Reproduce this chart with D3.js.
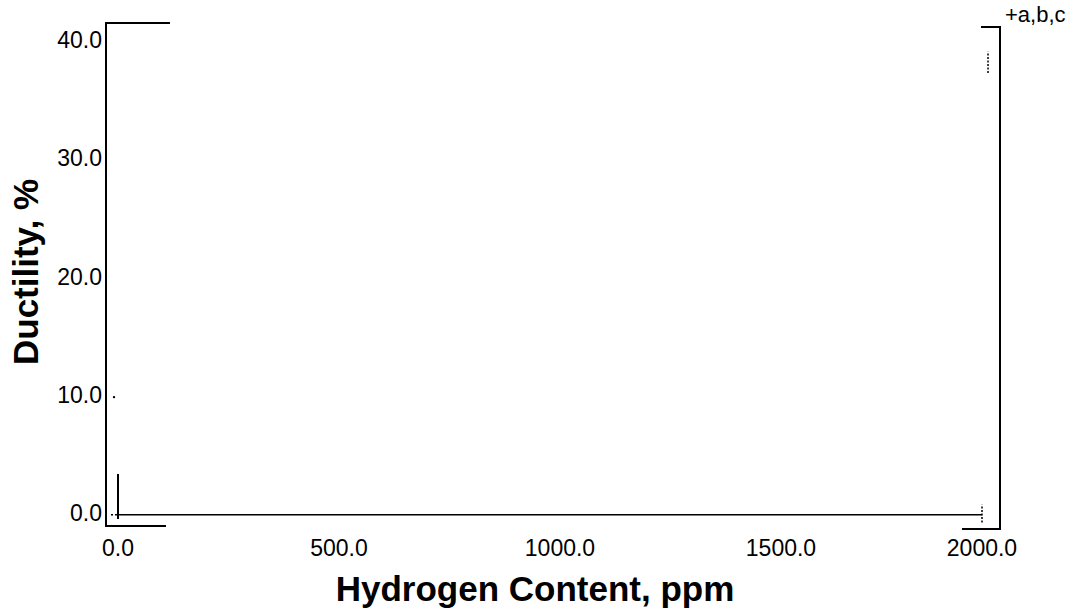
<!DOCTYPE html>
<html>
<head>
<meta charset="utf-8">
<script src="https://cdn.jsdelivr.net/npm/d3@7"></script>
<style>
  body { margin: 0; background: #fff; }
  text { font-family: "Liberation Sans", Arial, sans-serif; fill: #000; }
</style>
</head>
<body>
<div id="chart"></div>
<script>
(function(d3) {

// tick values on both axes
var xTicks = [0, 500, 1000, 1500, 2000];
var yTicks = [0, 10, 20, 30, 40];

// baseline series (drawn as a line)
var lineHydrogen = [0, 2000];
var lineDuctility = [-0.15, -0.15];

// error bars: hydrogen, low, high
var barHydrogen = [0, 2000, 2015];
var barLow = [-0.5, -0.8, 37.2];
var barHigh = [3.3, 0.7, 39.0];

// single stray point
var pointHydrogen = [-9];
var pointDuctility = [9.8];

var legendLabel = '+a,b,c';

var width = 1079,
    height = 614;

var svg = d3.select('#chart')
  .append('svg')
  .attr('width', width)
  .attr('height', height);

// scale is a bit stretched in the middle, like the scanned original
var x = d3.scaleLinear()
  .domain([0, 1500, 2000])
  .range([118, 781, 982]);

var y = d3.scaleLinear()
  .domain([0, 40])
  .range([513, 40]);

// frame: full sides, short bracket pieces top and bottom
var frame = svg.append('g')
  .attr('stroke', '#000')
  .attr('stroke-width', 2)
  .attr('fill', 'none');

frame.append('path').attr('d', 'M170,23H106V526H166');
frame.append('path').attr('d', 'M981,27H1000V529H962');

// tick labels
svg.append('g')
  .selectAll('text')
  .data(xTicks)
  .enter()
  .append('text')
  .attr('x', function(d) { return x(d); })
  .attr('y', 556)
  .attr('text-anchor', 'middle')
  .attr('font-size', 23)
  .text(function(d) { return d3.format('.1f')(d); });

svg.append('g')
  .selectAll('text')
  .data(yTicks)
  .enter()
  .append('text')
  .attr('x', 102)
  .attr('y', function(d) { return y(d); })
  .attr('dy', '0.35em')
  .attr('text-anchor', 'end')
  .attr('font-size', 23)
  .text(function(d) { return d3.format('.1f')(d); });

// baseline
var line = d3.line()
  .x(function(d) { return x(d[0]); })
  .y(function(d) { return y(d[1]); });

svg.append('path')
  .datum(d3.zip(lineHydrogen, lineDuctility))
  .attr('d', line)
  .attr('fill', 'none')
  .attr('stroke', '#000')
  .attr('stroke-width', 1.5);

// little tick at start of baseline
svg.append('line')
  .attr('x1', x(0) - 7)
  .attr('x2', x(0))
  .attr('y1', y(lineDuctility[0]))
  .attr('y2', y(lineDuctility[0]))
  .attr('stroke', '#000')
  .attr('stroke-width', 1.5)
  .attr('stroke-dasharray', '2,2');

// error bars
svg.append('g')
  .selectAll('line')
  .data(d3.zip(barHydrogen, barLow, barHigh))
  .enter()
  .append('line')
  .attr('x1', function(d) { return x(d[0]); })
  .attr('x2', function(d) { return x(d[0]); })
  .attr('y1', function(d) { return y(d[1]); })
  .attr('y2', function(d) { return y(d[2]); })
  .attr('stroke', '#000')
  .attr('stroke-width', function(d, i) { return i === 0 ? 2 : 1.5; })
  .attr('stroke-dasharray', function(d, i) { return i === 0 ? null : '2,1.5'; });

// stray point
svg.append('g')
  .selectAll('circle')
  .data(d3.zip(pointHydrogen, pointDuctility))
  .enter()
  .append('circle')
  .attr('cx', function(d) { return x(d[0]); })
  .attr('cy', function(d) { return y(d[1]); })
  .attr('r', 1.2)
  .attr('fill', '#000');

// legend text
svg.append('text')
  .attr('x', 1005)
  .attr('y', 22)
  .attr('font-size', 22)
  .text(legendLabel);

// axis titles
svg.append('text')
  .attr('x', 535)
  .attr('y', 601)
  .attr('text-anchor', 'middle')
  .attr('font-size', 35)
  .attr('font-weight', 'bold')
  .text('Hydrogen Content, ppm');

svg.append('text')
  .attr('transform', 'translate(38,272) rotate(-90)')
  .attr('text-anchor', 'middle')
  .attr('font-size', 35)
  .attr('font-weight', 'bold')
  .text('Ductility, %');

})(window.d3);
</script>
</body>
</html>
